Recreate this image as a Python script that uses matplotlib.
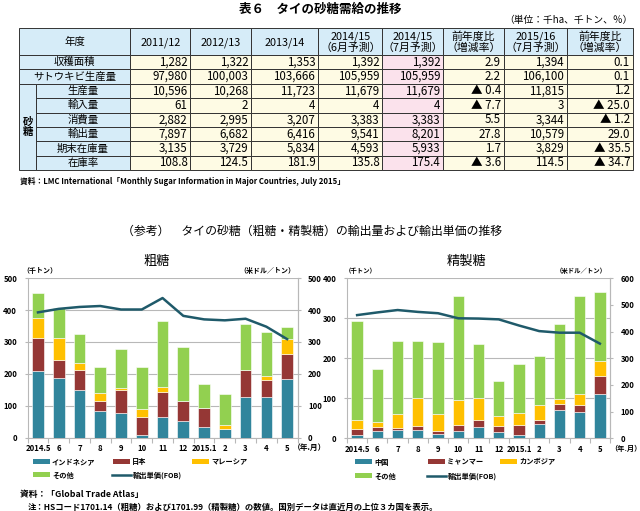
import matplotlib
matplotlib.use('Agg')
import matplotlib.pyplot as plt
from matplotlib.patches import Rectangle
import numpy as np

plt.rcParams['font.family'] = ['Noto Sans CJK JP', 'DejaVu Sans']

# ---------------- table data ----------------
table_title = '表６　タイの砂糖需給の推移'
unit_text = '（単位：千ha、千トン、％）'
corner_label = '年度'
col_headers = ['2011/12', '2012/13', '2013/14', '2014/15\n（6月予測）', '2014/15\n（7月予測）',
               '前年度比\n（増減率）', '2015/16\n（7月予測）', '前年度比\n（増減率）']
row_labels = ['収穫面積', 'サトウキビ生産量', '生産量', '輸入量', '消費量', '輸出量', '期末在庫量', '在庫率']
group_label = '砂\n糖'
table_values = [
    ['1,282', '1,322', '1,353', '1,392', '1,392', '2.9', '1,394', '0.1'],
    ['97,980', '100,003', '103,666', '105,959', '105,959', '2.2', '106,100', '0.1'],
    ['10,596', '10,268', '11,723', '11,679', '11,679', '▲ 0.4', '11,815', '1.2'],
    ['61', '2', '4', '4', '4', '▲ 7.7', '3', '▲ 25.0'],
    ['2,882', '2,995', '3,207', '3,383', '3,383', '5.5', '3,344', '▲ 1.2'],
    ['7,897', '6,682', '6,416', '9,541', '8,201', '27.8', '10,579', '29.0'],
    ['3,135', '3,729', '5,834', '4,593', '5,933', '1.7', '3,829', '▲ 35.5'],
    ['108.8', '124.5', '181.9', '135.8', '175.4', '▲ 3.6', '114.5', '▲ 34.7'],
]
table_source = '資料：LMC International「Monthly Sugar Information in Major Countries, July 2015」'

# ---------------- chart data ----------------
section_title = '（参考）　タイの砂糖（粗糖・精製糖）の輸出量および輸出単価の推移'
months = ['2014.5', '6', '7', '8', '9', '10', '11', '12', '2015.1', '2', '3', '4', '5']

raw_title = '粗糖'
raw_indonesia = [209, 188, 148, 82, 76, 7, 64, 52, 33, 27, 127, 127, 185]
raw_japan = [103, 54, 64, 32, 72, 58, 78, 63, 61, 0, 84, 55, 77]
raw_malaysia = [64, 70, 23, 27, 9, 23, 18, 1, 0, 11, 1, 11, 46]
raw_other = [79, 95, 91, 79, 122, 134, 207, 169, 73, 99, 144, 137, 39]
raw_price = [393, 404, 410, 413, 402, 402, 438, 382, 371, 368, 373, 348, 309]
raw_labels = ['インドネシア', '日本', 'マレーシア', 'その他', '輸出単価(FOB)']

ref_title = '精製糖'
ref_china = [9, 17.5, 20, 21.5, 11.5, 19, 29, 16, 8, 36, 70, 66.5, 111]
ref_myanmar = [13.5, 11.5, 6, 10, 6.5, 14, 16, 15, 26, 11, 16.5, 17.5, 45]
ref_cambodia = [22.5, 13, 36, 70, 42, 63, 56, 25, 28.5, 36, 11, 26, 37]
ref_other = [248, 132, 182, 142.5, 180, 259, 136, 87, 122.5, 123, 189, 246, 173.5]
ref_price = [462, 472, 481, 474, 469, 450, 449, 446, 423, 402, 396, 396, 355]
ref_labels = ['中国', 'ミャンマー', 'カンボジア', 'その他', '輸出単価(FOB)']

unit_left = '（千トン）'
unit_right = '（米ドル／トン）'
x_unit = '（年.月）'
note_source = '資料：「Global Trade Atlas」'
note_text = '注：HSコード1701.14（粗糖）および1701.99（精製糖）の数値。国別データは直近月の上位３カ国を表示。'

# ---------------- styles ----------------
C_BLUE = '#31859c'
C_RED = '#953735'
C_YEL = '#ffc000'
C_GRN = '#92d050'
C_LINE = '#1f5a6a'
GRID = '#b8b8b8'

W, H = 640, 511
fig = plt.figure(figsize=(6.4, 5.11), dpi=100)
ov = fig.add_axes([0, 0, 1, 1])
ov.set_xlim(0, W)
ov.set_ylim(H, 0)
ov.axis('off')

# ---------------- table ----------------
ov.text(320, 9, table_title, ha='center', va='center', fontsize=9, fontweight='bold')
ov.text(633, 20.5, unit_text, ha='right', va='center', fontsize=7)

x_edges = [19.3, 36, 130, 190.4, 251.2, 318.3, 382.4, 443.2, 504, 566.9, 633]
y_top = 28.5
y_head = 55.0
row_h = 14.4
hdr_bg = '#d6ecf8'
dat_bg = '#fefbe4'
pink_bg = '#fbe2ec'
ec = '#333333'
lw = 0.7


def cell(x0, x1, y0, y1, fc):
    ov.add_patch(Rectangle((x0, y0), x1 - x0, y1 - y0, facecolor=fc, edgecolor=ec, lw=lw))


cell(x_edges[0], x_edges[2], y_top, y_head, hdr_bg)
ov.text((x_edges[0] + x_edges[2]) / 2, (y_top + y_head) / 2, corner_label, ha='center', va='center', fontsize=7.5)
for j, h in enumerate(col_headers):
    x0, x1 = x_edges[2 + j], x_edges[3 + j]
    cell(x0, x1, y_top, y_head, hdr_bg)
    ov.text((x0 + x1) / 2, (y_top + y_head) / 2 + 0.5, h, ha='center', va='center', fontsize=7.8,
            linespacing=1.05)

for i, lab in enumerate(row_labels):
    y0 = y_head + i * row_h
    y1 = y0 + row_h
    lx0 = x_edges[0] if i < 2 else x_edges[1]
    cell(lx0, x_edges[2], y0, y1, hdr_bg)
    ov.text((lx0 + x_edges[2]) / 2, (y0 + y1) / 2, lab, ha='center', va='center', fontsize=7.5)
    for j, v in enumerate(table_values[i]):
        x0, x1 = x_edges[2 + j], x_edges[3 + j]
        cell(x0, x1, y0, y1, pink_bg if j == 4 else dat_bg)
        ov.text(x1 - 3, (y0 + y1) / 2, v, ha='right', va='center', fontsize=8.3)

g0 = y_head + 2 * row_h
g1 = y_head + len(row_labels) * row_h
cell(x_edges[0], x_edges[1], g0, g1, hdr_bg)
ov.text((x_edges[0] + x_edges[1]) / 2, (g0 + g1) / 2, group_label, ha='center', va='center',
        fontsize=7.5, linespacing=1.0, fontweight='bold')
ov.text(19.5, 181, table_source, ha='left', va='center', fontsize=5.6, fontweight='bold')

# ---------------- section title ----------------
ov.text(312, 231, section_title, ha='center', va='center', fontsize=8.6)


def fig_rect(x0, x1, ytop, ybot):
    return [x0 / W, 1 - ybot / H, (x1 - x0) / W, (ybot - ytop) / H]


def make_chart(rect, series, colors, price, lmax, lstep, rmax, rstep):
    ax = fig.add_axes(rect)
    x = np.arange(len(months))
    bottom = np.zeros(len(months))
    for vals, col in zip(series, colors):
        ax.bar(x, vals, bottom=bottom, width=0.56, color=col, edgecolor='#ffffff', linewidth=0.4, zorder=3)
        bottom = bottom + np.array(vals)
    ax.set_xlim(-0.5, len(months) - 0.5)
    ax.set_ylim(0, lmax)
    ax.set_yticks(np.arange(0, lmax + 1, lstep))
    ax.yaxis.grid(True, color=GRID, lw=0.8, zorder=0)
    ax.set_axisbelow(True)
    ax.set_xticks(x)
    ax.set_xticklabels(months)
    ax.set_xticks(np.arange(-0.5, len(months), 1.0), minor=True)
    ax.tick_params(axis='x', which='major', length=0, pad=5, labelsize=5.6)
    ax.tick_params(axis='x', which='minor', length=3.5, color=GRID, width=0.8)
    ax.tick_params(axis='y', length=2.5, color=GRID, width=0.8, pad=5, labelsize=5.6)
    for lab in ax.get_xticklabels() + ax.get_yticklabels():
        lab.set_fontweight('bold')
    for s in ['left', 'bottom', 'right']:
        ax.spines[s].set_color(GRID)
        ax.spines[s].set_linewidth(0.8)
    ax.spines['top'].set_visible(False)
    ax2 = ax.twinx()
    ax2.plot(x, price, color=C_LINE, lw=1.8, zorder=5)
    ax2.set_ylim(0, rmax)
    ax2.set_yticks(np.arange(0, rmax + 1, rstep))
    ax2.tick_params(axis='y', length=2.5, color=GRID, width=0.8, pad=5, labelsize=5.6)
    for lab in ax2.get_yticklabels():
        lab.set_fontweight('bold')
    for s in ['left', 'bottom', 'top']:
        ax2.spines[s].set_visible(False)
    ax2.spines['right'].set_color(GRID)
    ax2.spines['right'].set_linewidth(0.8)
    return ax, ax2


raw_colors = [C_BLUE, C_RED, C_YEL, C_GRN]
make_chart(fig_rect(27.6, 297.5, 278.3, 437.5), [raw_indonesia, raw_japan, raw_malaysia, raw_other],
           raw_colors, raw_price, 500, 100, 500, 100)
make_chart(fig_rect(347, 610, 278.3, 438.3), [ref_china, ref_myanmar, ref_cambodia, ref_other],
           raw_colors, ref_price, 400, 100, 600, 100)

# chart titles / units
ov.text(157, 261.5, raw_title, ha='center', va='center', fontsize=9.5)
ov.text(467, 261.5, ref_title, ha='center', va='center', fontsize=9.5)
ov.text(22, 270, unit_left, ha='left', va='center', fontsize=5, fontweight='bold')
ov.text(295, 270, unit_right, ha='right', va='center', fontsize=5, fontweight='bold')
ov.text(345, 271, unit_left, ha='left', va='center', fontsize=4.6, fontweight='bold')
ov.text(607, 271, unit_right, ha='right', va='center', fontsize=4.6, fontweight='bold')
ov.text(293, 447.5, x_unit, ha='left', va='center', fontsize=5.6, fontweight='bold')
ov.text(610, 448.5, x_unit, ha='left', va='center', fontsize=5.2, fontweight='bold')


# legends
def legend(x_cols, labels, y1, y2, line_x):
    pw, ph = 17, 5
    rows = [(x_cols[0], y1, raw_colors[0], labels[0]), (x_cols[1], y1, raw_colors[1], labels[1]),
            (x_cols[2], y1, raw_colors[2], labels[2]), (x_cols[0], y2, raw_colors[3], labels[3])]
    for xx, yy, col, lab in rows:
        ov.add_patch(Rectangle((xx, yy - ph / 2), pw, ph, facecolor=col, edgecolor='none'))
        ov.text(xx + pw + 2, yy, lab, ha='left', va='center', fontsize=5.2, fontweight='bold')
    ov.plot([line_x, line_x + 19], [y2, y2], color=C_LINE, lw=1.8)
    ov.text(line_x + 21, y2, labels[4], ha='left', va='center', fontsize=5.2, fontweight='bold')


legend([33, 113, 192], raw_labels, 461.5, 475, 112)
legend([355, 428, 500], ref_labels, 462, 476, 427)

ov.text(19.5, 494, note_source, ha='left', va='center', fontsize=6.3, fontweight='bold')
ov.text(28, 507, note_text, ha='left', va='center', fontsize=6.0, fontweight='bold')

fig.savefig('out.png', dpi=100)
